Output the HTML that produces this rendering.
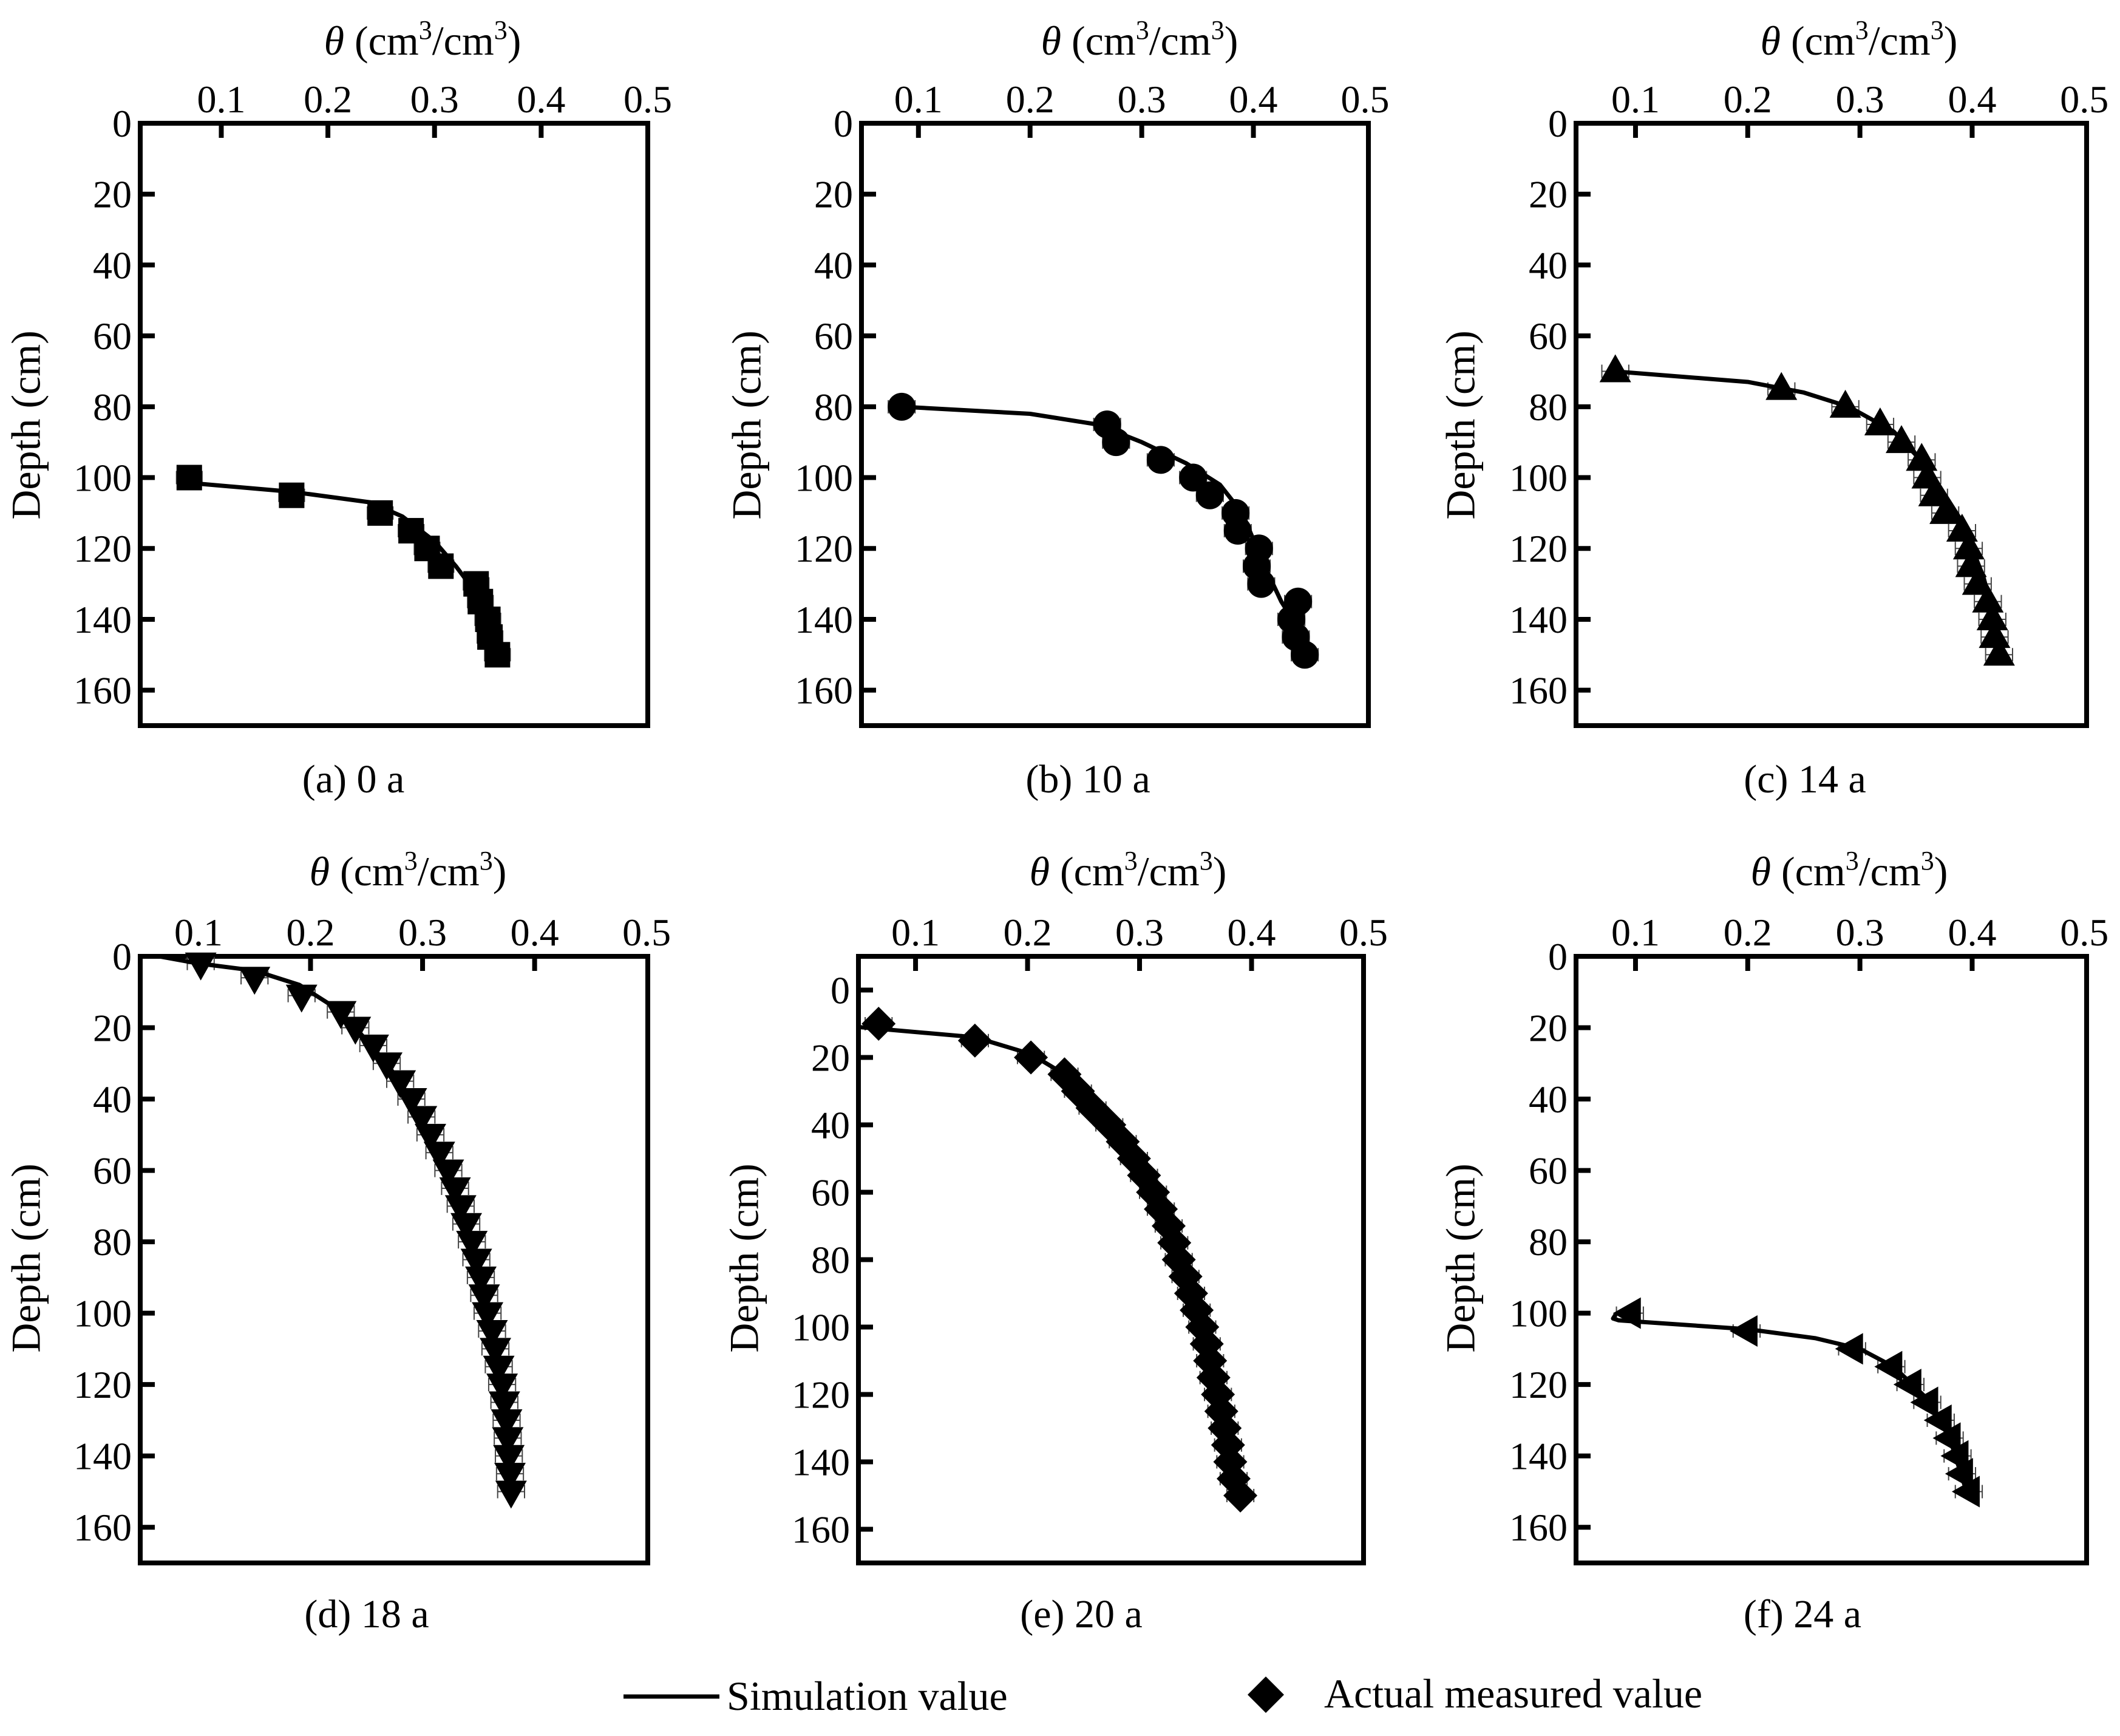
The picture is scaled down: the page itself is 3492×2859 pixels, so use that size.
<!DOCTYPE html>
<html><head><meta charset="utf-8"><style>
html,body{margin:0;padding:0;background:#fff}
svg{display:block;font-family:"Liberation Serif",serif}
</style></head><body>
<svg id="fig" width="3492" height="2859" viewBox="0 0 3492 2859" xmlns="http://www.w3.org/2000/svg"></svg>
<script>
// ---- data ----
const depthTicks = [0,20,40,60,80,100,120,140,160];
const thetaTicks = [0.1,0.2,0.3,0.4,0.5];
const thetaTickLabels = ["0.1","0.2","0.3","0.4","0.5"];

const aDepth = [100,105,110,115,120,125,130,135,140,145,150];
const aTheta = [0.070,0.166,0.249,0.278,0.293,0.306,0.339,0.343,0.350,0.352,0.359];
const aSimD = [101.5,104,107,111,118,125,131,140,150];
const aSimT = [0.070,0.166,0.240,0.270,0.300,0.320,0.335,0.345,0.355];

const bDepth = [80,85,90,95,100,105,110,115,120,125,130,135,140,145,150];
const bTheta = [0.085,0.269,0.277,0.317,0.346,0.361,0.384,0.386,0.405,0.403,0.407,0.440,0.434,0.438,0.446];
const bSimD = [80,82,85,90,96,102,110,125,135,140,150];
const bSimT = [0.085,0.200,0.260,0.300,0.340,0.370,0.390,0.410,0.425,0.435,0.445];

const cDepth = [70,75,80,85,90,95,100,105,110,115,120,125,130,135,140,145,150];
const cTheta = [0.082,0.230,0.287,0.318,0.337,0.355,0.360,0.366,0.376,0.391,0.397,0.399,0.405,0.414,0.418,0.420,0.424];
const cSimD = [70,73,76,80,87,97,112,128,140,150];
const cSimT = [0.080,0.200,0.250,0.290,0.330,0.360,0.390,0.410,0.420,0.425];

const dDepth = [2,6,11,15.6,20,25,30,35,40,45,50,55,60,65,70,75,80,85,90,95,100,105,110,115,120,125,130,135,140,145,150];
const dTheta = [0.102,0.150,0.192,0.227,0.240,0.256,0.268,0.280,0.290,0.299,0.307,0.315,0.323,0.329,0.334,0.339,0.344,0.348,0.352,0.355,0.358,0.362,0.365,0.368,0.371,0.373,0.375,0.376,0.377,0.378,0.379];
const dSimD = [0,2,4,8,14,20,30,40,60,80,100,120,140,150];
const dSimT = [0.065,0.100,0.150,0.190,0.220,0.240,0.268,0.290,0.323,0.344,0.358,0.371,0.377,0.379];

const eDepth = [10,15,20,25,30,35,40,45,50,55,60,65,70,75,80,85,90,95,100,105,110,115,120,125,130,135,140,145,150];
const eTheta = [0.067,0.153,0.203,0.233,0.245,0.258,0.273,0.285,0.295,0.304,0.312,0.319,0.326,0.331,0.335,0.341,0.346,0.351,0.356,0.360,0.363,0.366,0.370,0.373,0.376,0.379,0.381,0.384,0.390];
const eSimD = [11,11.5,14,19,25,40,60,80,100,120,140,150];
const eSimT = [0.050,0.067,0.153,0.203,0.233,0.273,0.312,0.335,0.356,0.370,0.381,0.390];

const fDepth = [100,105,110,115,120,125,130,135,140,145,150];
const fTheta = [0.095,0.199,0.293,0.328,0.345,0.360,0.372,0.380,0.387,0.391,0.397];
const fSimD = [100.5,101.5,102,104.5,107,110,115,124,135,150];
const fSimT = [0.082,0.080,0.085,0.200,0.260,0.300,0.330,0.360,0.380,0.395];

const errHalf = 0.012;

const panels = [
 {id:"a",cap:"(a) 0 a",L:231,R:1067,T:203,B:1195,x0:0.024,x1:0.5,y0:0,y1:170,D:aDepth,V:aTheta,SD:aSimD,ST:aSimT,m:"square",capX:582,capY:1305,titX:696,titY:90,labX:50,labY:700},
 {id:"b",cap:"(b) 10 a",L:1419,R:2254,T:203,B:1195,x0:0.049,x1:0.503,y0:0,y1:170,D:bDepth,V:bTheta,SD:bSimD,ST:bSimT,m:"circle",capX:1792,capY:1305,titX:1877,titY:90,labX:1237,labY:700},
 {id:"c",cap:"(c) 14 a",L:2596,R:3437,T:203,B:1195,x0:0.047,x1:0.502,y0:0,y1:170,D:cDepth,V:cTheta,SD:cSimD,ST:cSimT,m:"tri-up",capX:2973,capY:1305,titX:3062,titY:90,labX:2413,labY:700},
 {id:"d",cap:"(d) 18 a",L:231,R:1067,T:1575,B:2574,x0:0.048,x1:0.501,y0:0,y1:170,D:dDepth,V:dTheta,SD:dSimD,ST:dSimT,m:"tri-down",capX:604,capY:2680,titX:672,titY:1458,labX:50,labY:2072},
 {id:"e",cap:"(e) 20 a",L:1414,R:2246,T:1575,B:2574,x0:0.049,x1:0.5,y0:-10,y1:170,D:eDepth,V:eTheta,SD:eSimD,ST:eSimT,m:"diamond",capX:1781,capY:2680,titX:1858,titY:1458,labX:1233,labY:2072},
 {id:"f",cap:"(f) 24 a",L:2596,R:3437,T:1575,B:2574,x0:0.047,x1:0.502,y0:0,y1:170,D:fDepth,V:fTheta,SD:fSimD,ST:fSimT,m:"tri-left",capX:2969,capY:2680,titX:3046,titY:1458,labX:2413,labY:2072}
];

const NS="http://www.w3.org/2000/svg";
const svg=document.getElementById("fig");
function mk(tag,attrs,parent){const e=document.createElementNS(NS,tag);for(const k in attrs)e.setAttribute(k,attrs[k]);(parent||svg).appendChild(e);return e;}

function marker(g,type,cx,cy){
  let e;
  if(type==="square"){e=mk("rect",{x:cx-21,y:cy-21,width:42,height:42,fill:"#000"},g);}
  else if(type==="circle"){e=mk("circle",{cx:cx,cy:cy,r:23,fill:"#000"},g);}
  else if(type==="tri-up"){e=mk("polygon",{points:`${cx},${cy-28} ${cx-26},${cy+18} ${cx+26},${cy+18}`,fill:"#000"},g);}
  else if(type==="tri-down"){e=mk("polygon",{points:`${cx},${cy+28} ${cx-26},${cy-18} ${cx+26},${cy-18}`,fill:"#000"},g);}
  else if(type==="tri-left"){e=mk("polygon",{points:`${cx-28},${cy} ${cx+18},${cy-26} ${cx+18},${cy+26}`,fill:"#000"},g);}
  else {e=mk("polygon",{points:`${cx},${cy-28} ${cx+28},${cy} ${cx},${cy+28} ${cx-28},${cy}`,fill:"#000"},g);}
  return e;
}

panels.forEach(p=>{
  const g=mk("g",{});
  
  
  const sx=v=>p.L+(v-p.x0)/(p.x1-p.x0)*(p.R-p.L);
  const sy=d=>p.T+(d-p.y0)/(p.y1-p.y0)*(p.B-p.T);

  thetaTicks.forEach((t,i)=>{
    const x=sx(t);
    if(t<0.5){const tk=mk("line",{x1:x,y1:p.T,x2:x,y2:p.T+24,stroke:"#000","stroke-width":8},g);
      
      }
    const tl=mk("text",{x:x,y:p.T-18,"font-size":64,"text-anchor":"middle",fill:"#000"},g);
    tl.textContent=thetaTickLabels[i];
    
    
  });
  depthTicks.forEach(d=>{
    const y=sy(d);
    if(d>p.y0){const tk=mk("line",{x1:p.L,y1:y,x2:p.L+24,y2:y,stroke:"#000","stroke-width":8},g);
      
      }
    const tl=mk("text",{x:p.L-14,y:y+22,"font-size":64,"text-anchor":"end",fill:"#000"},g);
    tl.textContent=String(d);
    
    
  });
  const fr=mk("rect",{x:p.L,y:p.T,width:p.R-p.L,height:p.B-p.T,fill:"none",stroke:"#000","stroke-width":8},g);
  
  
  const xt=mk("text",{x:p.titX,y:p.titY,"font-size":68,"text-anchor":"middle",fill:"#000"},g);
  xt.innerHTML='<tspan font-style="italic">θ</tspan> (cm<tspan dy="-26" font-size="44">3</tspan><tspan dy="26">/cm</tspan><tspan dy="-26" font-size="44">3</tspan><tspan dy="26">)</tspan>';
  
  
  const yt=mk("text",{x:p.labX,y:p.labY,"font-size":68,"text-anchor":"middle",fill:"#000",transform:`rotate(-90 ${p.labX} ${p.labY})`,"dominant-baseline":"middle"},g);
  yt.textContent="Depth (cm)";
  
  
  const cp=mk("text",{x:p.capX,y:p.capY,"font-size":66,"text-anchor":"middle",fill:"#000"},g);
  cp.textContent=p.cap;
  
  
  p.D.forEach((d,i)=>{
    const y=sy(d),xa=sx(p.V[i]-errHalf),xb=sx(p.V[i]+errHalf);
    const eb=mk("path",{d:`M${xa},${y}H${xb}M${xa},${y-11}V${y+11}M${xb},${y-11}V${y+11}`,stroke:"#444","stroke-width":2,fill:"none"},g);
    
    
  });
  const pts=p.SD.map((d,i)=>`${sx(p.ST[i])},${sy(d)}`).join(" ");
  const ln=mk("polyline",{points:pts,fill:"none",stroke:"#000","stroke-width":7,"stroke-linejoin":"round","stroke-linecap":"round"},g);
  
  
  p.D.forEach((d,i)=>{
    const mkr=marker(g,p.m,sx(p.V[i]),sy(d));
    
    
  });
});

const lg=mk("g",{});


const l1=mk("line",{x1:1027,y1:2794,x2:1185,y2:2794,stroke:"#000","stroke-width":7},lg);


const t1=mk("text",{x:1197,y:2816,"font-size":68,fill:"#000"},lg);
t1.textContent="Simulation value";


const dm=mk("polygon",{points:"2085,2761 2115,2791 2085,2821 2055,2791",fill:"#000"},lg);


const t2=mk("text",{x:2181,y:2812,"font-size":68,fill:"#000"},lg);
t2.textContent="Actual measured value";


</script>
</body></html>
